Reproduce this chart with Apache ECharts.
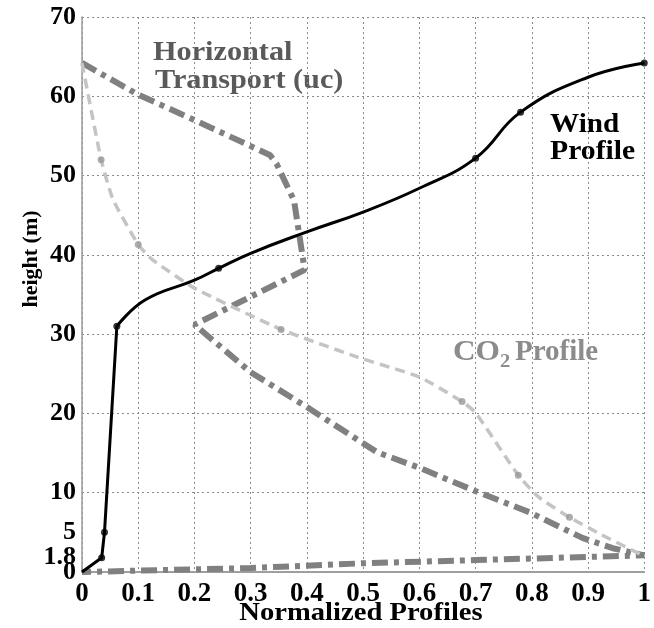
<!DOCTYPE html>
<html><head><meta charset="utf-8">
<script src="https://cdn.jsdelivr.net/npm/echarts@6/dist/echarts.min.js"></script>
<style>html,body{margin:0;padding:0;background:#fff}#c{width:654px;height:628px}</style>
</head><body><div id="c"></div>
<script>
// ---- data ----
const yTickLabels = [0, 1.8, 5, 10, 20, 30, 40, 50, 60, 70];
const windProfile = [[0,0],[0.035,1.8],[0.04,5],[0.062,31],[0.112,34.3],[0.2,36.8],[0.243,38.3],[0.3,40.2],[0.4,42.9],[0.5,45.4],[0.6,48.4],[0.7,52.2],[0.78,58],[0.9,62.4],[1.0,64.2]];
const windMarkers = [[0.035,1.8],[0.04,5],[0.062,31],[0.243,38.3],[0.7,52.2],[0.78,58],[1.0,64.2]];
const co2Profile = [[0,64.2],[0.034,52],[0.055,47],[0.1,41.3],[0.125,39.4],[0.2,35.8],[0.354,30.6],[0.49,27.1],[0.6,24.6],[0.676,21.5],[0.7,20.1],[0.776,12.2],[0.813,9.4],[0.867,6.9],[0.924,4.7],[0.977,2.8],[1.0,2.0]];
const co2Markers = [[0.034,52],[0.1,41.3],[0.354,30.6],[0.676,21.5],[0.776,12.2],[0.867,6.9]];
const transportProfile = [[0,64.2],[0.1,60.2],[0.194,57.2],[0.334,52.6],[0.346,51.5],[0.37,47.9],[0.377,46.9],[0.396,38.1],[0.2,31.2],[0.3,25.2],[0.4,20.8],[0.525,15.1],[0.598,13.2],[0.7,10.2],[0.797,7.5],[0.89,4.3],[0.944,3.0],[1.0,2.1],[0.7,1.5],[0.5,1.1],[0.3,0.5],[0,0]];
const labelTexts = { transport1: 'Horizontal', transport2: 'Transport (uc)', wind1: 'Wind', wind2: 'Profile', co2a: 'CO', co2sub: '2', co2b: 'Profile' };
const axisTitles = { x: 'Normalized Profiles', y: 'height (m)' };

const windKink = 3; // index of the corner at 31 m
const windLower = windProfile.slice(0, windKink + 1);
const windUpper = windProfile.slice(windKink);
// the close low labels (0, 1.8, 5) are split over two overlaid axes so none is dropped
const yLabelsA = yTickLabels.filter(v => v !== 0 && v !== 5);
const yLabelsB = yTickLabels.filter(v => v === 0 || v === 5);

const FF = '"Liberation Serif", "Times New Roman", serif';
const chart = echarts.init(document.getElementById('c'), null, { renderer: 'canvas' });
const gridColor = '#8a8a8a';
const yLabelStyle = { fontFamily: FF, fontWeight: 'bold', fontSize: 26, color: '#000', margin: 6, showMinLabel: true, showMaxLabel: true, hideOverlap: false };
const option = {
  animation: false,
  backgroundColor: '#fff',
  grid: { left: 82, right: 1, top: 17, bottom: 56 },
  xAxis: [{
    type: 'value', min: 0, max: 1, interval: 0.1,
    axisLine: { show: true, lineStyle: { color: '#9a9a9a', width: 1.5 } },
    axisTick: { show: false },
    axisLabel: { fontFamily: FF, fontWeight: 'bold', fontSize: 27, color: '#000', margin: 9, showMinLabel: true, showMaxLabel: true },
    splitLine: { show: true, lineStyle: { type: [2, 3], color: gridColor, width: 1 } }
  }, {
    type: 'value', min: 0, max: 1, position: 'top',
    axisLine: { show: true, lineStyle: { color: '#9a9a9a', width: 1.5 } },
    axisTick: { show: false }, axisLabel: { show: false }, splitLine: { show: false }
  }],
  yAxis: [{
    type: 'value', min: 0, max: 70, interval: 10,
    axisLine: { show: true, lineStyle: { color: '#9a9a9a', width: 1.5 } },
    axisTick: { show: false },
    axisLabel: Object.assign({ customValues: yLabelsA }, yLabelStyle),
    splitLine: { show: true, lineStyle: { type: [2, 3], color: gridColor, width: 1 } }
  }, {
    type: 'value', min: 0, max: 70, position: 'left', offset: 0,
    axisLine: { show: false }, axisTick: { show: false }, splitLine: { show: false },
    axisLabel: Object.assign({ customValues: yLabelsB }, yLabelStyle)
  }],
  series: [
    { name: 'Horizontal Transport (uc)', type: 'line', data: transportProfile, symbol: 'none', z: 2,
      lineStyle: { color: '#808080', width: 6, type: [16, 6, 5, 6] } },
    { name: 'CO2 Profile', type: 'line', data: co2Profile, symbol: 'none', smooth: 0.15, z: 3,
      lineStyle: { color: '#c4c4c4', width: 3.5, type: [10, 6] } },
    { name: 'CO2 markers', type: 'scatter', data: co2Markers, symbolSize: 7, z: 4,
      itemStyle: { color: '#999' } },
    { name: 'Wind Profile (lower)', type: 'line', data: windLower, symbol: 'none', z: 5,
      lineStyle: { color: '#000', width: 3 } },
    { name: 'Wind Profile', type: 'line', data: windUpper, symbol: 'none', smooth: 0.45, z: 5,
      lineStyle: { color: '#000', width: 3 } },
    { name: 'Wind markers', type: 'scatter', data: windMarkers, symbolSize: 7, z: 6,
      itemStyle: { color: '#000' } }
  ],
  graphic: [
    { type: 'text', x: 153, y: 53, scaleX: 1.08, style: { text: labelTexts.transport1, font: 'bold 28px ' + FF, fill: '#5a5a5a', textAlign: 'left', textVerticalAlign: 'middle' } },
    { type: 'text', x: 155, y: 81, scaleX: 1.08, style: { text: labelTexts.transport2, font: 'bold 28px ' + FF, fill: '#5a5a5a', textAlign: 'left', textVerticalAlign: 'middle' } },
    { type: 'text', x: 550, y: 125, scaleX: 1.08, style: { text: labelTexts.wind1, font: 'bold 27px ' + FF, fill: '#000', textAlign: 'left', textVerticalAlign: 'middle' } },
    { type: 'text', x: 550, y: 152, scaleX: 1.1, style: { text: labelTexts.wind2, font: 'bold 27px ' + FF, fill: '#000', textAlign: 'left', textVerticalAlign: 'middle' } },
    { type: 'text', x: 453, y: 353, scaleX: 1.08, style: { text: labelTexts.co2a, font: 'bold 29px ' + FF, fill: '#8c8c8c', textAlign: 'left', textVerticalAlign: 'middle' } },
    { type: 'text', x: 500, y: 362, scaleX: 1.08, style: { text: labelTexts.co2sub, font: 'bold 19px ' + FF, fill: '#8c8c8c', textAlign: 'left', textVerticalAlign: 'middle' } },
    { type: 'text', x: 515, y: 353, scaleX: 1.0, style: { text: labelTexts.co2b, font: 'bold 29px ' + FF, fill: '#8c8c8c', textAlign: 'left', textVerticalAlign: 'middle' } },
    { type: 'text', x: 361, y: 613, scaleX: 1.1, style: { text: axisTitles.x, font: 'bold 26px ' + FF, fill: '#000', textAlign: 'center', textVerticalAlign: 'middle' } },
    { type: 'text', x: 31, y: 259, rotation: Math.PI / 2, style: { text: axisTitles.y, font: 'bold 22px ' + FF, fill: '#000', textAlign: 'center', textVerticalAlign: 'middle' } }
  ]
};
chart.setOption(option);
</script>
</body></html>
